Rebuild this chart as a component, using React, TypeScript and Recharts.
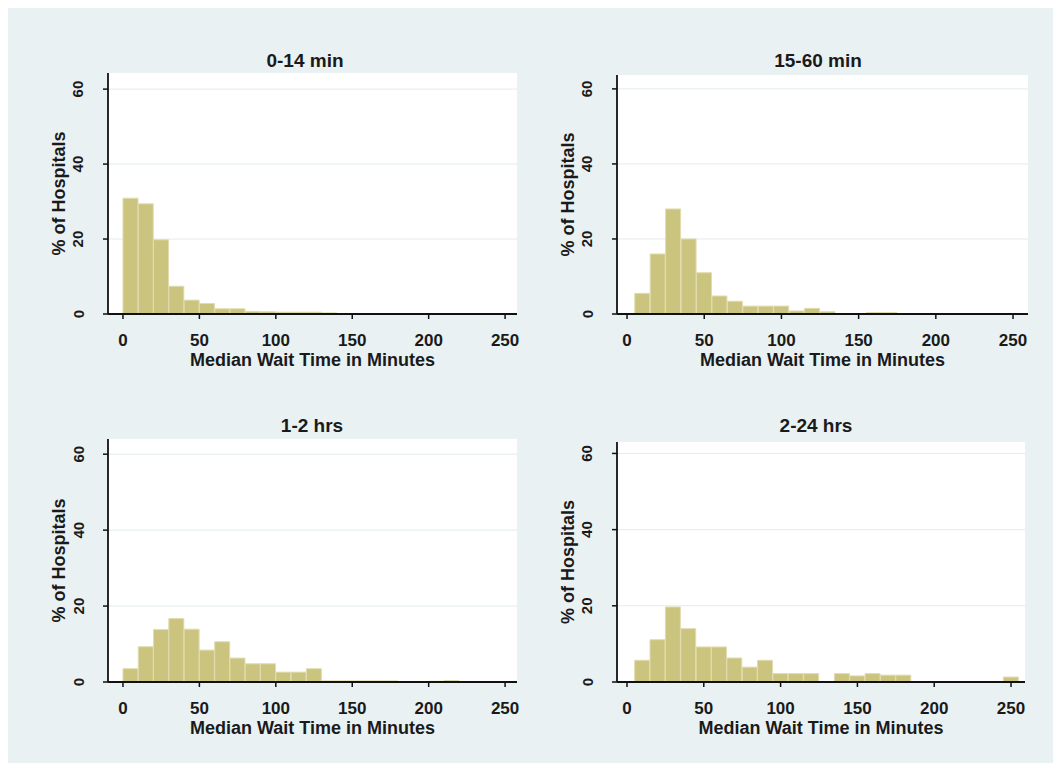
import React from 'react';
import { BarChart, Bar, XAxis, YAxis, CartesianGrid } from 'recharts';

// ---- data ----
const panelTitles = ['0-14 min', '15-60 min', '1-2 hrs', '2-24 hrs'];
const xTicks = [0, 50, 100, 150, 200, 250];
const yTicks = [0, 20, 40, 60];
const xAxisTitle = 'Median Wait Time in Minutes';
const yAxisTitle = '% of Hospitals';

const bins014 = [5, 15, 25, 35, 45, 55, 65, 75, 85, 95, 105, 115, 125, 135];
const pct014 = [30.9, 29.4, 19.8, 7.4, 3.7, 2.8, 1.4, 1.4, 0.7, 0.6, 0.5, 0.5, 0.5, 0.3];

const bins1560 = [10, 20, 30, 40, 50, 60, 70, 80, 90, 100, 110, 120, 130, 140, 150, 160, 170];
const pct1560 = [5.5, 16.0, 28.0, 20.0, 11.0, 4.8, 3.4, 2.1, 2.1, 2.1, 0.8, 1.5, 0.6, 0, 0, 0.4, 0.4];

const bins12 = [5, 15, 25, 35, 45, 55, 65, 75, 85, 95, 105, 115, 125, 135, 145, 155, 165, 175, 185, 195, 205, 215];
const pct12 = [3.5, 9.3, 13.8, 16.7, 13.9, 8.4, 10.6, 6.3, 4.8, 4.8, 2.6, 2.6, 3.5, 0.3, 0.3, 0.3, 0.3, 0.3, 0, 0, 0.2, 0.4];

const bins224 = [10, 20, 30, 40, 50, 60, 70, 80, 90, 100, 110, 120, 130, 140, 150, 160, 170, 180, 190, 200, 210, 220, 230, 240, 250];
const pct224 = [5.7, 11.1, 19.7, 14.0, 9.2, 9.2, 6.3, 3.9, 5.7, 2.2, 2.2, 2.2, 0, 2.2, 1.6, 2.2, 1.8, 1.8, 0, 0, 0, 0, 0, 0, 1.3];

const toRows = (bins: number[], vals: number[]) => bins.map((x, i) => ({ x, pct: vals[i] }));

const panelData = [
  toRows(bins014, pct014),
  toRows(bins1560, pct1560),
  toRows(bins12, pct12),
  toRows(bins224, pct224),
];

// ---- layout (container coords; container sits at page 8,8) ----
const layouts = [
  { left: 2, top: 32, width: 520, height: 340, yw: 98, mr: 13, mt: 33, xh: 66, xd: [-9.8, 257.8], yd: [0, 64.3], tx: 297, tb: 59 },
  { left: 512, top: 32, width: 520, height: 340, yw: 97, mr: 12, mt: 35, xh: 66, xd: [-6.5, 259.7], yd: [0, 63.7], tx: 810, tb: 59 },
  { left: 2, top: 392, width: 520, height: 350, yw: 98, mr: 13, mt: 39, xh: 68, xd: [-9.8, 257.8], yd: [0, 64], tx: 304, tb: 424 },
  { left: 512, top: 392, width: 520, height: 350, yw: 97, mr: 15, mt: 42, xh: 68, xd: [-6.5, 259.1], yd: [0, 63], tx: 808, tb: 424 },
];

const FONT = '"Liberation Sans", Arial, Helvetica, sans-serif';
const BAR_FILL = '#cbc47f';
const BAR_STROKE = '#e0dcb0';
const BG = '#e9f1f3';
const INK = '#1a1a1a';

const XTick = (props: any) => {
  const { x, y, payload } = props;
  return (
    <text x={x} y={y + 25} textAnchor="middle" fontSize={17} fontWeight="bold" fontFamily={FONT} fill={INK}>
      {payload.value}
    </text>
  );
};

const YTick = (props: any) => {
  const { x, y, payload } = props;
  const cx = x - 23;
  return (
    <text
      x={cx}
      y={y}
      transform={`rotate(-90, ${cx}, ${y})`}
      textAnchor="middle"
      dominantBaseline="central"
      fontSize={15}
      fontWeight="bold"
      fontFamily={FONT}
      fill={INK}
    >
      {payload.value}
    </text>
  );
};

function Panel({ idx }: { idx: number }) {
  const L = layouts[idx];
  return (
    <div style={{ position: 'absolute', left: L.left, top: L.top, width: L.width, height: L.height }}>
      <BarChart
        width={L.width}
        height={L.height}
        data={panelData[idx]}
        margin={{ top: L.mt, right: L.mr, left: 0, bottom: 0 }}
        barCategoryGap={0}
        barGap={0}
      >
        <CartesianGrid vertical={false} stroke="#e3ebee" fill="#ffffff" fillOpacity={1} horizontalValues={[20, 40, 60]} />
        <XAxis
          dataKey="x"
          type="number"
          domain={L.xd}
          ticks={xTicks}
          allowDataOverflow
          height={L.xh}
          tickSize={5}
          tick={<XTick />}
          axisLine={{ stroke: '#111', strokeWidth: 1.8 }}
          tickLine={{ stroke: '#111', strokeWidth: 1.5 }}
          label={{
            value: xAxisTitle,
            position: 'insideBottom',
            offset: L.xh - 52,
            fontSize: 18,
            fontWeight: 'bold',
            fontFamily: FONT,
            fill: INK,
          }}
        />
        <YAxis
          type="number"
          domain={L.yd}
          ticks={yTicks}
          allowDataOverflow
          width={L.yw}
          tickSize={5}
          tick={<YTick />}
          axisLine={{ stroke: '#111', strokeWidth: 1.8 }}
          tickLine={{ stroke: '#111', strokeWidth: 1.5 }}
          label={{
            value: yAxisTitle,
            angle: -90,
            position: 'insideLeft',
            offset: L.yw - 49,
            fontSize: 18,
            fontWeight: 'bold',
            fontFamily: FONT,
            fill: INK,
            style: { textAnchor: 'middle' },
          }}
        />
        <Bar dataKey="pct" fill={BAR_FILL} stroke={BAR_STROKE} strokeWidth={1} isAnimationActive={false} />
      </BarChart>
      <div
        style={{
          position: 'absolute',
          left: L.tx - L.left - 120,
          top: L.tb - L.top - 16,
          width: 240,
          textAlign: 'center',
          fontFamily: FONT,
          fontSize: 19,
          fontWeight: 'bold',
          lineHeight: '19px',
          color: INK,
          whiteSpace: 'nowrap',
        }}
      >
        {panelTitles[idx]}
      </div>
    </div>
  );
}

export default function App() {
  return (
    <div style={{ position: 'relative', width: 1045, height: 755, background: BG, overflow: 'hidden' }}>
      {[0, 1, 2, 3].map((i) => (
        <Panel key={i} idx={i} />
      ))}
    </div>
  );
}
